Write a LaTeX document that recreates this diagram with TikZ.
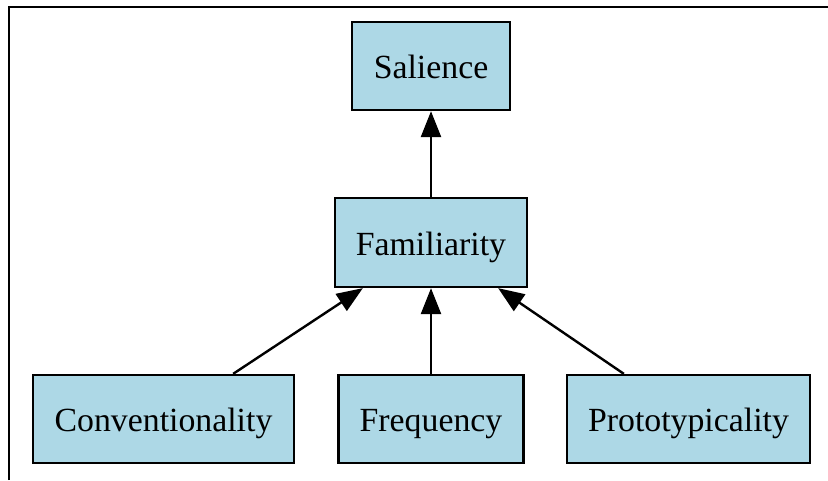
\documentclass[tikz,border=0pt]{standalone}
\usepackage{fontspec}
\setmainfont{Liberation Serif}
\usetikzlibrary{arrows.meta}
\definecolor{boxblue}{HTML}{ADD8E6}
\begin{document}
\begin{tikzpicture}[x=1pt,y=1pt,
  concept/.style={draw=black, line width=2.3pt, fill=boxblue, rectangle,
    inner sep=0pt, text depth=0pt, font=\fontsize{33.8}{40}\selectfont},
  link/.style={line width=2.4pt, -{Triangle[length=26pt,width=20pt]}}]
  \useasboundingbox (0,0) rectangle (828,480);
  % outer frame (left and top edges)
  \draw[line width=2.4pt] (9,0) -- (9,473) -- (828,473);
  % concepts
  \node[concept, minimum width=158pt, minimum height=88pt] (sal) at (431,414) {\raisebox{-2pt}{Salience}};
  \node[concept, minimum width=192pt, minimum height=89pt] (fam) at (431,237.5) {\raisebox{-2pt}{Familiarity}};
  \node[concept, minimum width=261pt, minimum height=88pt] (con) at (163.5,61) {\raisebox{-2pt}{Conventionality}};
  \node[concept, minimum width=185pt, minimum height=88pt] (fre) at (431,61) {\raisebox{-2pt}{Frequency}};
  \node[concept, minimum width=243pt, minimum height=88pt] (pro) at (688.5,61) {\raisebox{-2pt}{Prototypicality}};
  % influences
  \draw[link] (fam.north) -- (sal.south);
  \draw[link] (fre.north) -- (fam.south);
  \draw[link] ([xshift=-62pt]con.north east) -- ([xshift=29pt]fam.south west);
  \draw[link] ([xshift=58pt]pro.north west) -- ([xshift=-30pt]fam.south east);
\end{tikzpicture}
\end{document}
